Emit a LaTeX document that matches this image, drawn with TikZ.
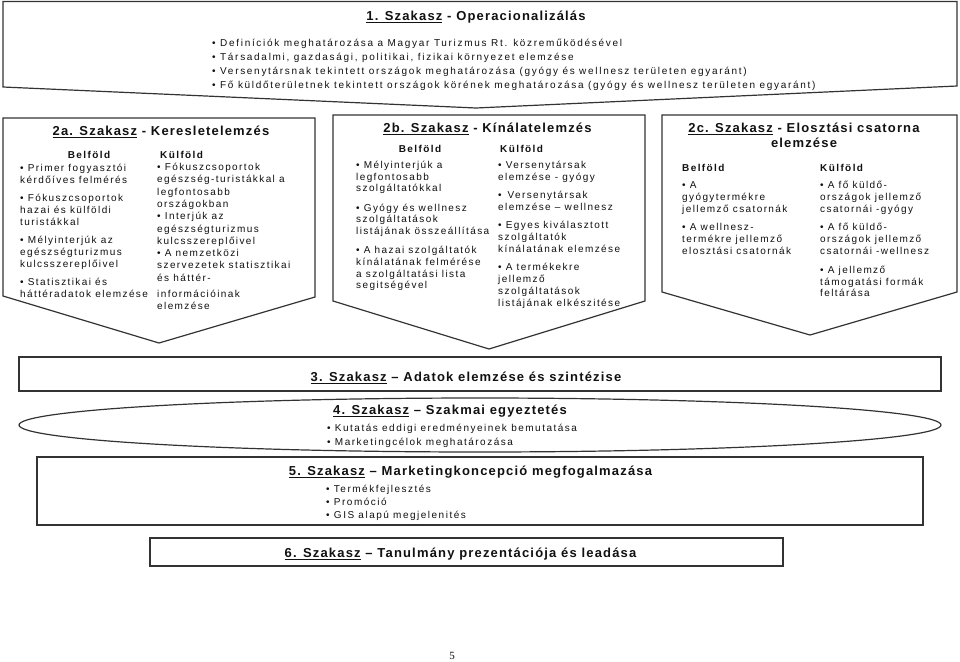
\documentclass[tikz,border=0pt]{standalone}
\usepackage{fontspec}
\setmainfont{Liberation Sans}
\newfontfamily\bodyf{Liberation Sans}[LetterSpace=14]
\newfontfamily\bodyw{Liberation Sans}[LetterSpace=17]
\newfontfamily\bodym{Liberation Sans}[LetterSpace=15]
\newfontfamily\ttlf{Liberation Sans}[LetterSpace=9]
\newfontfamily\numf{Liberation Serif}
\definecolor{ink}{HTML}{111111}
\definecolor{linec}{HTML}{333333}
\newcommand\rows[1]{\begin{tabular}[t]{@{}l@{}}#1\end{tabular}}
\newcommand\crows[1]{\begin{tabular}[t]{@{}c@{}}#1\end{tabular}}
\tikzset{
  frame/.style={draw=linec, line width=1.2pt, line join=miter},
  ttl/.style={inner sep=0pt, anchor=base, text=ink, font=\ttlf\bfseries\fontsize{13}{15}\selectfont},
  hdr/.style={inner sep=0pt, text=ink, font=\bodyf\bfseries\fontsize{10}{12}\selectfont},
  body/.style={inner sep=0pt, anchor=base west, text=ink, font=\bodyf\fontsize{10}{12}\selectfont},
}
\begin{document}
\begin{tikzpicture}[x=1pt,y=-1pt]
\useasboundingbox (0,0) rectangle (960,661);
\fill[white] (0,0) rectangle (960,661);
% ---------- box 1
\draw[frame] (3,1.5) -- (957,1.5) -- (957,86) -- (476,108) -- (3,87) -- cycle;
\node[ttl] (t1) at (476,20.5) {\underline{1. Szakasz} - Operacionalizálás};
\node[body, font=\bodyw\fontsize{10}{14}\selectfont] (b1) at (212,46.5) {\rows{%
• Definíciók meghatározása a Magyar Turizmus Rt. közreműködésével\\
• Társadalmi, gazdasági, politikai, fizikai környezet elemzése\\
• Versenytársnak tekintett országok meghatározása (gyógy és wellnesz területen egyaránt)\\
• Fő küldőterületnek tekintett országok körének meghatározása (gyógy és wellnesz területen egyaránt)}};
% ---------- box 2a
\draw[frame] (3,118) -- (315,118) -- (315,297) -- (159,343) -- (3,296) -- cycle;
\node[ttl] (t2a) at (161,135.5) {\underline{2a. Szakasz} - Keresletelemzés};
\node[hdr, anchor=base] (h2a1) at (89,158.5) {Belföld};
\node[hdr, anchor=base west] (h2a2) at (160,158.5) {Külföld};
\node[body] (c2a1) at (20,171.5) {\rows{%
• Primer fogyasztói\\ kérdőíves felmérés\\[6pt]
• Fókuszcsoportok\\ hazai és külföldi\\ turistákkal\\[6pt]
• Mélyinterjúk az\\ egészségturizmus\\ kulcsszereplőivel\\[6pt]
• Statisztikai és\\ háttéradatok elemzése}};
\node[body, font=\bodyf\fontsize{10}{12.3}\selectfont] (c2a2) at (157,170.5) {\rows{%
• Fókuszcsoportok\\ egészség-turistákkal a\\ legfontosabb\\ országokban\\
• Interjúk az\\ egészségturizmus\\ kulcsszereplőivel\\
• A nemzetközi\\ szervezetek statisztikai\\ és háttér-\\[4pt]
információinak\\ elemzése}};
% ---------- box 2b
\draw[frame] (333,115) -- (645,115) -- (645,301) -- (489,349) -- (333,301) -- cycle;
\node[ttl] (t2b) at (487.5,132.5) {\underline{2b. Szakasz} - Kínálatelemzés};
\node[hdr, anchor=base] (h2b1) at (420,152) {Belföld};
\node[hdr, anchor=base west] (h2b2) at (500,152) {Külföld};
\node[body, font=\bodyf\fontsize{10}{11.7}\selectfont] (c2b1) at (356,168.5) {\rows{%
• Mélyinterjúk a\\ legfontosabb\\ szolgáltatókkal\\[7.5pt]
• Gyógy és wellnesz\\ szolgáltatások\\ listájának összeállítása\\[7.5pt]
• A hazai szolgáltatók\\ kínálatának felmérése\\ a szolgáltatási lista\\ segitségével}};
\node[body] (c2b2) at (498,168.5) {\rows{%
• Versenytársak\\ elemzése - gyógy\\[6pt]
•\, Versenytársak\\ elemzése – wellnesz\\[6pt]
• Egyes kiválasztott\\ szolgáltatók\\ kínálatának elemzése\\[6pt]
• A termékekre\\ jellemző\\ szolgáltatások\\ listájának elkészitése}};
% ---------- box 2c
\draw[frame] (662,115) -- (957,115) -- (957,292) -- (810,335) -- (662,292) -- cycle;
\node[ttl] (t2c) at (804,132.5) {\crows{\underline{2c. Szakasz} - Elosztási csatorna\\ elemzése}};
\node[hdr, anchor=base west] (h2c1) at (682,171) {Belföld};
\node[hdr, anchor=base west] (h2c2) at (820,171) {Külföld};
\node[body, font=\bodyf\fontsize{10}{11.8}\selectfont] (c2c1) at (682,188.5) {\rows{%
• A\\ gyógytermékre\\ jellemző csatornák\\[7pt]
• A wellnesz-\\ termékre jellemző\\ elosztási csatornák}};
\node[body, font=\bodyf\fontsize{10}{11.8}\selectfont] (c2c2) at (820,188.5) {\rows{%
• A fő küldő-\\ országok jellemző\\ csatornái -gyógy\\[7pt]
• A fő küldő-\\ országok jellemző\\ csatornái -wellnesz\\[7pt]
• A jellemző\\ támogatási formák\\ feltárása}};
% ---------- box 3
\draw[frame] (19,357) rectangle (941,391);
\node[ttl] (t3) at (466,381.5) {\underline{3. Szakasz} – Adatok elemzése és szintézise};
% ---------- box 4 (flat ellipse)
\draw[frame] (480,425) ellipse [x radius=461, y radius=27];
\node[ttl] (t4) at (450,414.5) {\underline{4. Szakasz} – Szakmai egyeztetés};
\node[body, font=\bodym\fontsize{10}{14}\selectfont] (b4) at (327,431.5) {\rows{%
• Kutatás eddigi eredményeinek bemutatása\\ • Marketingcélok meghatározása}};
% ---------- box 5
\draw[frame] (37,457) rectangle (923,525);
\node[ttl] (t5) at (470.5,475.5) {\underline{5. Szakasz} – Marketingkoncepció megfogalmazása};
\node[body, font=\bodym\fontsize{10}{13}\selectfont] (b5) at (326,492.5) {\rows{%
• Termékfejlesztés\\ • Promóció\\ • GIS alapú megjelenités}};
% ---------- box 6
\draw[frame] (150,538) rectangle (783,566);
\node[ttl] (t6) at (460.5,557.5) {\underline{6. Szakasz} – Tanulmány prezentációja és leadása};
% ---------- page number
\node[inner sep=0pt, anchor=base, text=ink, font=\numf\fontsize{11}{13}\selectfont] (pg) at (452,659.5) {5};
\end{tikzpicture}
\end{document}
